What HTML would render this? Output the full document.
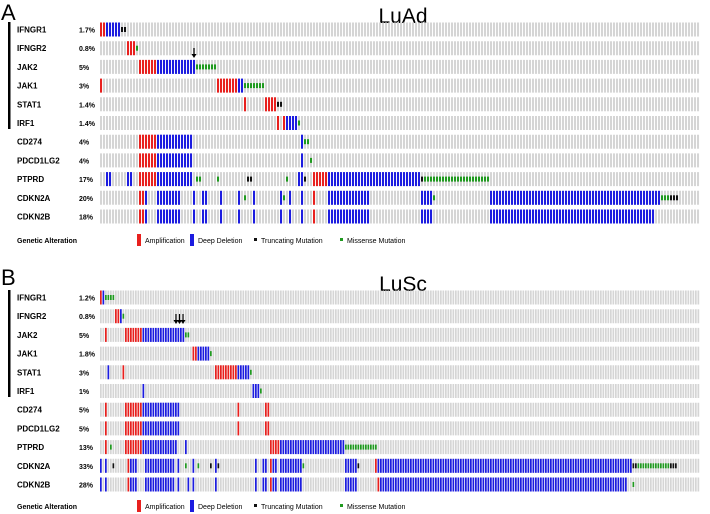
<!DOCTYPE html>
<html><head><meta charset="utf-8">
<style>
html,body{margin:0;padding:0;background:#fff;}
svg{display:block;font-family:"Liberation Sans",Arial,sans-serif;}
</style></head>
<body>
<svg id="chart" width="710" height="514" viewBox="0 0 710 514" xmlns="http://www.w3.org/2000/svg">
<text x="1" y="20" font-size="22">A</text>
<text x="403" y="23" font-size="21" text-anchor="middle">LuAd</text>
<text x="1" y="285" font-size="22">B</text>
<text x="403" y="291" font-size="21" text-anchor="middle">LuSc</text>
<rect x="8" y="22" width="2.5" height="107" fill="#000"/>
<rect x="8" y="290" width="2.5" height="107" fill="#000"/>
<g id="layer"></g>
</svg>
<script>
const genes = ["IFNGR1","IFNGR2","JAK2","JAK1","STAT1","IRF1","CD274","PDCD1LG2","PTPRD","CDKN2A","CDKN2B"];
const pctA = ["1.7%","0.8%","5%","3%","1.4%","1.4%","4%","4%","17%","20%","18%"];
const pctB = ["1.2%","0.8%","5%","1.8%","3%","1%","5%","5%","13%","33%","28%"];
const nSamplesA = 200;
const nSamplesB = 240;
// segments: [geneRow, firstSample, lastSample]
const ampA = [[0,0,1],[1,9,11],[2,13,18],[3,0,0],[3,39,45],[4,48,48],[4,55,58],[5,59,59],[5,61,61],[6,13,18],[7,13,18],[8,13,18],[8,71,75],[9,13,14],[9,71,71],[10,13,14],[10,71,71]];
const delA = [[0,2,6],[2,19,31],[3,46,47],[5,62,65],[6,19,30],[6,67,67],[7,19,30],[7,67,67],[8,2,3],[8,9,10],[8,19,30],[8,66,67],[8,76,106],
 [9,15,15],[9,19,26],[9,31,31],[9,34,35],[9,40,40],[9,46,46],[9,51,51],[9,60,60],[9,63,63],[9,67,67],[9,76,77],[9,78,89],[9,107,110],[9,130,186],
 [10,15,15],[10,19,26],[10,31,31],[10,34,35],[10,40,40],[10,46,46],[10,51,51],[10,60,60],[10,63,63],[10,67,67],[10,76,77],[10,78,89],[10,107,110],[10,130,184]];
const truncA = [[0,7,8],[4,59,60],[8,49,50],[8,68,68],[8,107,107],[9,190,192]];
const missA = [[1,12,12],[2,32,38],[3,48,54],[5,66,66],[6,68,69],[7,70,70],[8,32,33],[8,39,39],[8,62,62],[8,108,129],[9,48,48],[9,61,61],[9,111,111],[9,187,189]];
const ampB = [[0,0,0],[1,6,7],[2,2,2],[2,10,16],[3,37,38],[4,9,9],[4,46,54],[6,2,2],[6,10,16],[6,55,55],[6,66,67],[7,2,2],[7,10,16],[7,55,55],[7,66,67],[8,2,2],[8,10,16],[8,68,71],[9,11,11],[9,68,68],[9,110,110],[10,11,11],[10,68,68],[10,111,111]];
const delB = [[0,1,1],[1,8,8],[2,17,33],[3,39,43],[4,3,3],[4,55,59],[5,17,17],[5,61,63],[6,17,31],[7,17,31],[8,17,30],[8,34,34],[8,72,97],
 [9,0,0],[9,2,2],[9,12,14],[9,18,29],[9,31,31],[9,37,37],[9,46,46],[9,62,62],[9,65,66],[9,69,70],[9,72,80],[9,98,102],[9,111,212],
 [10,0,0],[10,2,2],[10,12,14],[10,18,29],[10,31,31],[10,35,35],[10,37,37],[10,46,46],[10,62,62],[10,65,66],[10,69,70],[10,72,80],[10,98,102],[10,112,210]];
const truncB = [[9,5,5],[9,44,44],[9,47,47],[9,103,103],[9,213,214],[9,228,230]];
const missB = [[0,2,5],[1,9,9],[2,34,35],[3,44,44],[4,60,60],[5,64,64],[8,4,4],[8,98,110],[9,34,34],[9,39,39],[9,81,81],[9,215,227],[10,213,213]];
const legendItems = ["Amplification","Deep Deletion","Truncating Mutation","Missense Mutation"];

const NS="http://www.w3.org/2000/svg";
const layer=document.getElementById('layer');
const COL={amp:"#e8201e",del:"#1c1ce0",trunc:"#111",miss:"#1f9a1f",grey:"#d5d5d5"};
function mk(tag,attrs){const e=document.createElementNS(NS,tag);for(const k in attrs)e.setAttribute(k,attrs[k]);layer.appendChild(e);return e;}

function drawPanel(key,top,n,pct,amp,del,trunc,miss){
  const x0=100,x1=700,pitch=(x1-x0)/n,w=pitch*0.68,rowPitch=18.7,h=14;
  const xs=i=>x0+i*pitch;
  const yRow=r=>top+r*rowPitch;
  genes.forEach((g,r)=>{
    const bold=mk('text',{x:17,y:yRow(r)+10,'font-size':8,'font-weight':'bold'});
    bold.textContent=g;
    
    
    const p=mk('text',{x:79,y:yRow(r)+10,'font-size':7,'font-weight':'bold'});
    p.textContent=pct[r];
    
    
    let d='';
    for(let i=0;i<n;i++){d+='M'+xs(i).toFixed(2)+' '+yRow(r)+'h'+w.toFixed(2)+'v'+h+'h-'+w.toFixed(2)+'z';}
    const bg=mk('path',{d:d,fill:COL.grey});
    
    
  });
  const full=(list,color,name)=>list.forEach(s=>{for(let i=s[1];i<=s[2];i++){
    const e=mk('rect',{x:xs(i),y:yRow(s[0]),width:w,height:h,fill:color});
    
    
  }});
  const small=(list,color,name)=>list.forEach(s=>{for(let i=s[1];i<=s[2];i++){
    const e=mk('rect',{x:xs(i),y:yRow(s[0])+4.5,width:w,height:5,fill:color});
    
    
  }});
  full(amp,COL.amp,'amplification-cell');
  full(del,COL.del,'deep-deletion-cell');
  small(trunc,COL.trunc,'truncating-mutation-mark');
  small(miss,COL.miss,'missense-mutation-mark');
}
drawPanel('a',22.5,nSamplesA,pctA,ampA,delA,truncA,missA);
drawPanel('b',290.5,nSamplesB,pctB,ampB,delB,truncB,missB);

function arrow(x,y1,y2,name){
  const l=mk('line',{x1:x,y1:y1,x2:x,y2:y2-3,stroke:'#000','stroke-width':1.2});
  
  
  const p=mk('path',{d:`M${x-2.5} ${y2-4}L${x+2.5} ${y2-4}L${x} ${y2}z`,fill:'#000'});
  
  
}
arrow(194,48,58,'jak2-arrow-a');
arrow(176,314,324,'jak2-arrow-b1');
arrow(179.5,314,324,'jak2-arrow-b2');
arrow(183,314,324,'jak2-arrow-b3');

function legend(y,key){
  const t=mk('text',{x:17,y:y+3,'font-size':7,'font-weight':'bold'});
  t.textContent="Genetic Alteration";
  
  
  const xs=[137,190,254,340];
  const cols=[COL.amp,COL.del,COL.trunc,COL.miss];
  legendItems.forEach((lab,i)=>{
    const small=i>=2;
    const r=mk('rect',{x:xs[i],y:small?y-2:y-6,width:small?3:4,height:small?3:12,fill:cols[i]});
    
    
    const tx=mk('text',{x:xs[i]+(small?7:8),y:y+3,'font-size':7});
    tx.textContent=lab;
    
    
  });
}
legend(240,'a');
legend(506,'b');
</script>
</body></html>
